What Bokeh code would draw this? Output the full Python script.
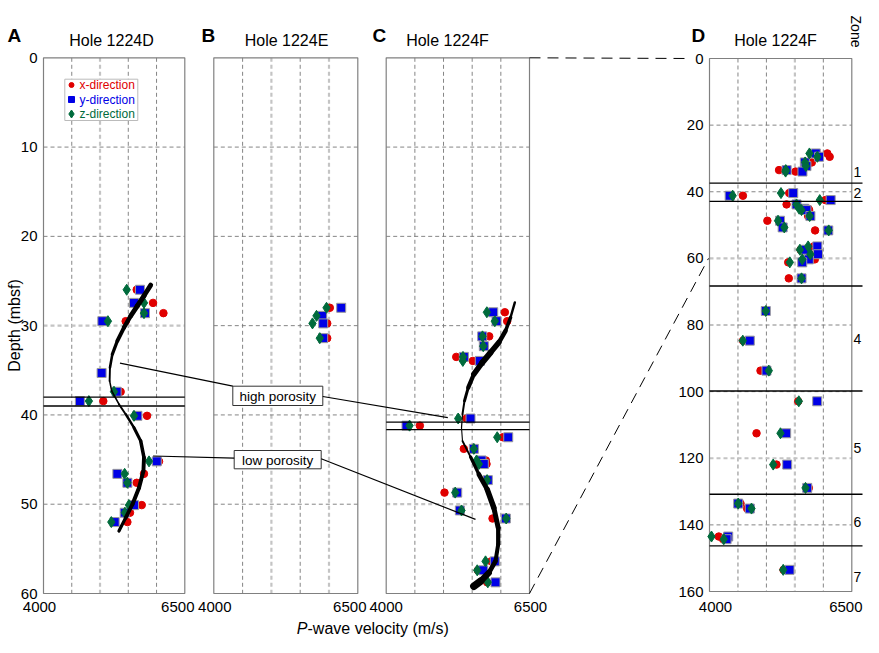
import math
from bokeh.plotting import figure
from bokeh.models import Range1d
from bokeh.core.properties import value
from bokeh.embed import file_html
from bokeh.resources import INLINE

NaN = float("nan")

# ---------------- data ----------------
# Hole 1224D : depth (mbsf) and P-wave velocity (m/s) in x, y, z directions
holeD_depth = [25.98, 27.45, 28.6, 29.5, 35.3, 37.4, 38.45, 40.1, 45.2, 46.6, 47.6, 50.1, 50.95, 52.0]
holeD_vx = [5649, 5938, 6122, 5454, NaN, 5365, 5058, 5832, 6044, 5778, 5649, 5738, 5530, 5484]
holeD_vy = [5707, 5601, 5796, 5041, 5028, 5294, 4644, 5661, 6004, 5307, 5484, 5601, 5436, 5259]
holeD_vz = [5472, 5778, 5778, 5140, NaN, 5247, 4803, 5601, 5867, 5436, 5484, 5512, 5440, 5200]

# Hole 1224E
holeE_depth = [28.0, 28.9, 29.75, 31.4]
holeE_vx = [6014, 5890, 5969, 5969]
holeE_vy = [6212, 5882, 5899, 5899]
holeE_vz = [5957, 5783, 5713, 5840]

# Hole 1224F
holeF_depth = [28.5, 29.5, 31.2, 32.3, 33.5, 33.95, 40.4, 41.2, 42.5, 43.8, 45.1, 45.5, 47.3, 48.7,
               50.7, 51.6, 56.4, 57.4, 58.75, 60.3, 61.2, 66.0, 75.8, 84.7, 93.7, 102.9, 112.5,
               121.9, 128.9, 133.6, 135.1, 143.5, 144.3, 153.5]
holeF_vx = [6070, 6111, 5797, 5710, 5222, 5511, 5401, 4587, 6035, 5354, 5738, 5750, 5733, 5017,
            5300, 5855, 5832, 5600, 5762, 5850, 5383, 5393, 4985, 4590, 4896, 5558, 4826,
            5177, 5745, 4545, 4662, 4163, 4240, 5300]
holeF_vy = [5867, 5925, 5675, 5703, 5355, 5633, 5471, 4354, 6129, 5529, 5663, 5703, 5773, 5239,
            5285, 6087, 5895, 5693, 5907, 5745, 5629, 5617, 4989, 4708, 5001, 5892, 5347,
            5365, 5717, 4504, 4708, 4329, 4300, 5406]
holeF_vz = [5756, 5895, 5680, 5693, 5340, 5337, 5256, 4407, 5937, 5529, 5576, 5616, 5760, 5204,
            5314, 6094, 5733, 5588, 5773, 5629, 5411, 5617, 4989, 4585, 5042, 5569, 5247,
            5119, 5687, 4504, 4738, 4035, 4251, 5295]

# trend curves (hand-drawn S-curves)
curveA_depth = [25.46, 26.66, 27.78, 28.9, 30.21, 31.7, 33.2, 34.7, 36.19, 37.3, 38.8, 39.92,
                41.43, 42.92, 44.79, 46.28, 48.16, 50.02, 51.52, 53.01]
curveA_vel = [5897, 5778, 5661, 5543, 5424, 5307, 5218, 5176, 5170, 5206, 5335, 5454,
              5601, 5720, 5778, 5768, 5690, 5573, 5454, 5335]
curveA_width = [4.5, 5, 5, 4.6, 4.2, 3.6, 3.0, 2.2, 1.6, 1.5, 1.8, 2.2,
                2.8, 3.3, 3.8, 4.0, 4.0, 4.0, 3.6, 2.8]

curveC_depth = [27.41, 29.09, 30.58, 31.89, 33.02, 34.14, 35.44, 36.94, 38.43, 39.92, 41.43,
                42.92, 44.7, 46.65, 48.34, 50.4, 52.64, 54.5, 56.38, 57.69, 58.63, 59.19]
curveC_vel = [6244, 6169, 6082, 5965, 5820, 5675, 5529, 5431, 5366, 5331, 5314,
              5331, 5471, 5616, 5762, 5878, 5954, 5954, 5907, 5790, 5646, 5529]
curveC_width = [2, 3, 4, 5, 6, 6, 5, 3.5, 2.5, 1.5, 1.0,
                1.2, 2.5, 4, 5.5, 5.5, 4.5, 4, 4, 5.5, 7, 8]

zone_bounds = [37.4, 42.9, 68.3, 99.8, 130.8, 146.3]
zone_names = ["1", "2", "4", "5", "6", "7"]
zone_label_depth = [34.0, 40.4, 84.3, 116.9, 139.0, 155.5]
porosity_A = [38.0, 39.0]
porosity_C = [40.8, 41.65]

x_ticks = [4000, 6500]
x_tick_labels = ["4000", "6500"]
x_grid = [4500, 5000, 5500, 6000]
depth_ticks_60 = [0, 10, 20, 30, 40, 50, 60]
depth_ticks_160 = [0, 20, 40, 60, 80, 100, 120, 140, 160]

titles = {"A": "Hole 1224D", "B": "Hole 1224E", "C": "Hole 1224F", "D": "Hole 1224F"}

# ---------------- layout / style ----------------
W, H = 863, 637
FONT = "Liberation Sans"
RED, BLUE, GREEN = "#e00000", "#0000e6", "#006b3c"
GRID_DARK, GRID_LIGHT, FRAME = "#777777", "#c4c4c4", "#808080"

PX = {"A": (43.0, 184.3), "B": (213.3, 357.3), "C": (385.7, 529.0), "D": (709.0, 851.3)}
PY60 = (57.3, 593.0)
PY160 = (58.0, 591.0)
light_x = {"A": [5000], "B": [5000, 6000], "C": [], "D": [5500]}
light_y = {"A": [30], "B": [], "C": [50], "D": [60, 120]}
title_px = {"A": 111, "B": 286, "C": 447, "D": 775}
letter_px = {"A": 7, "B": 201, "C": 372, "D": 691}
xlab_off = {"A": (-4, -7), "B": (1, -8), "C": (0, 1), "D": (6, 0)}


def xrange_for(px0, px1, v0=4000.0, v1=6500.0):
    k = (v1 - v0) / (px1 - px0)
    return Range1d(start=v0 - px0 * k, end=v0 + (W - px0) * k)


def yrange_for(py0, py1, d0, d1):
    k = (d1 - d0) / (py1 - py0)
    return Range1d(start=d0 + (H - py0) * k, end=d0 - py0 * k)


def sx(key, v):
    a, b = PX[key]
    return a + (v - 4000.0) / 2500.0 * (b - a)


def sy(key, d):
    if key == "D":
        a, b = PY160
        return a + d / 160.0 * (b - a)
    a, b = PY60
    return a + d / 60.0 * (b - a)


p = figure(width=W, height=H, x_range=Range1d(0, W), y_range=Range1d(H, 0),
           min_border=0, toolbar_location=None, output_backend="svg",
           x_axis_location=None, y_axis_location=None)
p.outline_line_color = None
p.grid.visible = False
p.background_fill_color = "white"
p.border_fill_color = "white"

p.extra_x_ranges = {k: xrange_for(*PX[k]) for k in PX}
p.extra_y_ranges = {"y60": yrange_for(PY60[0], PY60[1], 0, 60),
                    "y160": yrange_for(PY160[0], PY160[1], 0, 160)}

txt = dict(text_font=value(FONT), text_color="black")


def panel(key, data):
    yn = "y160" if key == "D" else "y60"
    ymax = 160 if key == "D" else 60
    yt = depth_ticks_160 if key == "D" else depth_ticks_60
    kw = dict(x_range_name=key, y_range_name=yn)
    # grid
    for gx in x_grid:
        lt = gx in light_x[key]
        p.segment(x0=[gx], x1=[gx], y0=[0], y1=[ymax],
                  line_color=GRID_LIGHT if lt else GRID_DARK,
                  line_width=2.2 if lt else 0.9, line_dash="4 3", **kw)
    for gy in yt[1:-1]:
        lt = gy in light_y[key]
        p.segment(x0=[4000], x1=[6500], y0=[gy], y1=[gy],
                  line_color=GRID_LIGHT if lt else GRID_DARK,
                  line_width=2.2 if lt else 0.9, line_dash="4 3", **kw)
    # frame
    p.quad(left=[4000], right=[6500], top=[0], bottom=[ymax], fill_color=None,
           line_color=FRAME, line_width=1.2, **kw)
    # data points
    depth, vx, vy, vz = data
    p.scatter(x=vx, y=depth, marker="circle", size=7.5, fill_color=RED, line_color=RED, **kw)
    p.scatter(x=vy, y=depth, marker="square", size=9, fill_color=BLUE, line_color="#9a9a9a",
              line_width=1, **kw)
    p.scatter(x=vz, y=depth, marker="diamond", size=11, fill_color=GREEN, line_color=GREEN, **kw)
    # x tick labels
    offs = xlab_off[key]
    aligns = ["center", "right" if key == "D" else "center"]
    for i, (tv, tl) in enumerate(zip(x_ticks, x_tick_labels)):
        xo = offs[i]
        if aligns[i] == "right":
            tv = 4000 + (W - 1 - PX[key][0]) / (PX[key][1] - PX[key][0]) * 2500
        p.text(x=[tv], y=[606], text=[tl], x_offset=xo, text_align=aligns[i],
               text_baseline="middle", text_font_size=value("15px"), x_range_name=key, **txt)
    # title and panel letter
    p.text(x=[title_px[key]], y=[40], text=[titles[key]], text_align="center",
           text_baseline="middle", text_font_size=value("16px"), **txt)
    p.text(x=[letter_px[key]], y=[35], text=[key], text_align="left", text_baseline="middle",
           text_font_size=value("19px"), text_font_style="bold", **txt)


def subset(depth, vx, vy, vz, dmax):
    idx = [i for i, d in enumerate(depth) if d <= dmax]
    return ([depth[i] for i in idx], [vx[i] for i in idx], [vy[i] for i in idx], [vz[i] for i in idx])


def thick_curve(key, depth, vel, width):
    n = len(depth)
    w = [(width[i] + width[i + 1]) / 2.0 for i in range(n - 1)]
    p.segment(x0=vel[:-1], x1=vel[1:], y0=depth[:-1], y1=depth[1:], line_width=w,
              line_color="black", line_cap="round", x_range_name=key, y_range_name="y60")


panel("A", (holeD_depth, holeD_vx, holeD_vy, holeD_vz))
panel("B", (holeE_depth, holeE_vx, holeE_vy, holeE_vz))
panel("C", subset(holeF_depth, holeF_vx, holeF_vy, holeF_vz, 60))
panel("D", (holeF_depth, holeF_vx, holeF_vy, holeF_vz))

# porosity boundary lines
p.segment(x0=[4000] * 2, x1=[6500] * 2, y0=porosity_A, y1=porosity_A, line_color="black",
          line_width=1.4, x_range_name="A", y_range_name="y60")
p.segment(x0=[4000] * 2, x1=[6500] * 2, y0=porosity_C, y1=porosity_C, line_color="black",
          line_width=1.4, x_range_name="C", y_range_name="y60")

thick_curve("A", curveA_depth, curveA_vel, curveA_width)
thick_curve("C", curveC_depth, curveC_vel, curveC_width)

# zone boundaries (extend past right frame of D)
nz = len(zone_bounds)
p.segment(x0=[PX["D"][0]] * nz, x1=[W - 1] * nz, y0=zone_bounds, y1=zone_bounds,
          line_color="black", line_width=1.4, y_range_name="y160")
p.text(x=[853] * len(zone_names), y=zone_label_depth, text=zone_names,
       text_align="left", text_baseline="middle", text_font_size=value("14px"),
       y_range_name="y160", **txt)
p.text(x=[855], y=[31], text=["Zone"], angle=-math.pi / 2, text_align="center",
       text_baseline="middle", text_font_size=value("14px"), **txt)

# depth tick labels
p.text(x=[PX["A"][0] - 6] * len(depth_ticks_60), y=depth_ticks_60,
       text=[str(t) for t in depth_ticks_60], text_align="right", text_baseline="middle",
       text_font_size=value("15px"), y_range_name="y60", **txt)
p.text(x=[PX["D"][0] - 6] * len(depth_ticks_160), y=depth_ticks_160,
       text=[str(t) for t in depth_ticks_160], text_align="right", text_baseline="middle",
       text_font_size=value("15px"), y_range_name="y160", **txt)

# axis labels
p.text(x=[14], y=[325], text=["Depth (mbsf)"], angle=math.pi / 2, text_align="center",
       text_baseline="middle", text_font_size=value("16px"), **txt)
p.text(x=[307], y=[628], text=["P"], text_align="right", text_baseline="middle",
       text_font_size=value("16px"), text_font_style="italic", **txt)
p.text(x=[307], y=[628], text=["-wave velocity (m/s)"], text_align="left",
       text_baseline="middle", text_font_size=value("16px"), **txt)

# legend (inside panel A)
p.quad(left=[64.3], right=[137.3], top=[78.7], bottom=[120], fill_color="white",
       line_color="#bbbbbb", line_width=1)
leg_y = [84.5, 99, 113.5]
p.scatter(x=[71], y=[leg_y[0]], marker="circle", size=5, fill_color=RED, line_color=RED)
p.scatter(x=[71], y=[leg_y[1]], marker="square", size=6, fill_color=BLUE, line_color=BLUE)
p.scatter(x=[71], y=[leg_y[2]], marker="diamond", size=8, fill_color=GREEN, line_color=GREEN)
for yy, lab, col in zip(leg_y, ["x-direction", "y-direction", "z-direction"], [RED, BLUE, GREEN]):
    p.text(x=[79], y=[yy], text=[lab], text_align="left", text_baseline="middle",
           text_font_size=value("12px"), text_font=value(FONT), text_color=col)

# porosity annotations
boxes = [("high porosity", 232.3, 385.7, 322.3, 405.0), ("low porosity", 233.7, 450.0, 320.7, 468.3)]
for lab, l, t, r, b in boxes:
    p.quad(left=[l], right=[r], top=[t], bottom=[b], fill_color="white", line_color="#333333",
           line_width=1)
    p.text(x=[(l + r) / 2], y=[(t + b) / 2 + 0.5], text=[lab], text_align="center",
           text_baseline="middle", text_font_size=value("13.5px"), **txt)
# leader lines: (panel, velocity, depth) -> box side
leaders = [("A", 5353, 34.2, 232.3, 385.7), ("C", 5075, 40.3, 322.3, 396.0),
           ("A", 5938, 44.6, 233.7, 457.7), ("C", 5558, 51.7, 320.7, 458.3)]
p.segment(x0=[sx(k, v) for k, v, d, _, _ in leaders], y0=[sy(k, d) for k, v, d, _, _ in leaders],
          x1=[a for *_, a, _ in leaders], y1=[b for *_, b in leaders],
          line_color="black", line_width=1.2)

# dashed connectors from C (0-60 m) to D
p.segment(x0=[sx("C", 6500)] * 2, y0=[sy("C", 0), sy("C", 60)],
          x1=[sx("D", 4000) - 20, sx("D", 4000) - 1], y1=[sy("D", 0), sy("D", 60)],
          line_color="black", line_width=1, line_dash="11 7")

open("out.html", "w").write(file_html(p, INLINE))
